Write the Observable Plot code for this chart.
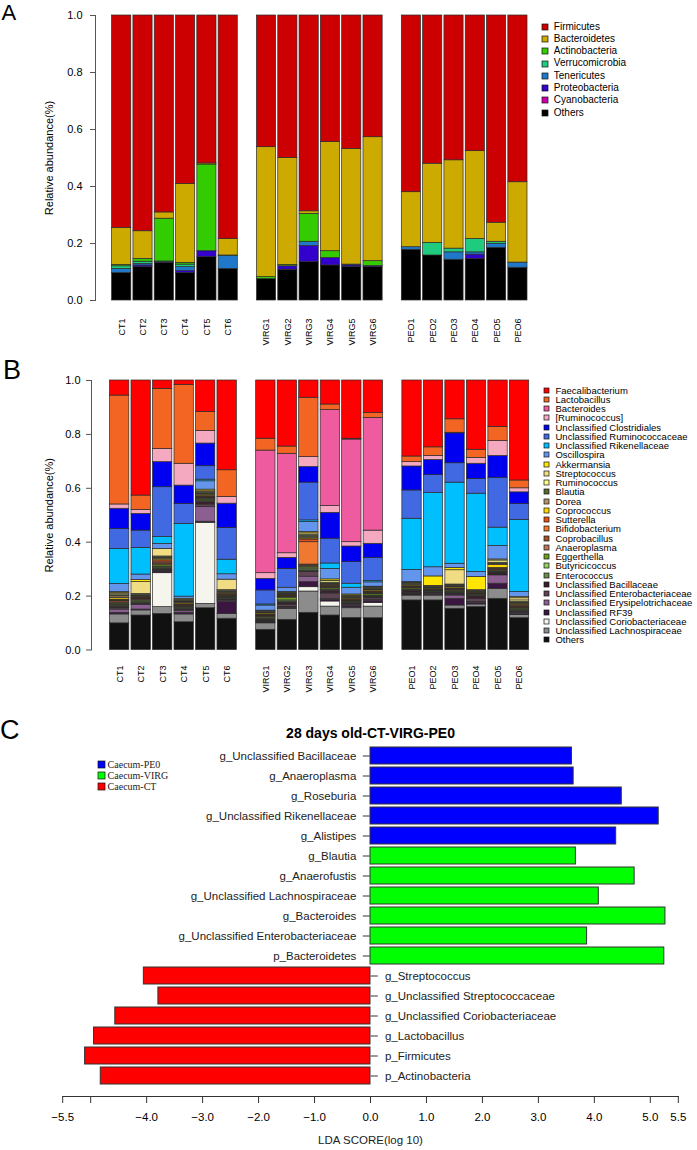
<!DOCTYPE html>
<html><head><meta charset="utf-8">
<script src="https://cdn.jsdelivr.net/npm/d3@7"></script>
<script src="https://cdn.jsdelivr.net/npm/@observablehq/plot@0.6"></script>
<style>
body{margin:0;background:#fff;}
#wrap{position:relative;width:697px;height:1150px;overflow:hidden;background:#fff;font-family:"Liberation Sans",Arial,sans-serif;}
.panel{position:absolute;left:0;}
.letter{position:absolute;line-height:1;color:#000;}
.lg{position:absolute;}
.lgA-swatches,.lgB-swatches{font-family:"Liberation Sans",Arial,sans-serif !important;font-size:10px !important;margin:0 !important;color:#000;}
.lgB-swatches{font-size:9.5px !important;}
.lgA-swatches-columns .lgA-swatch{height:12.3px;padding-bottom:0 !important;line-height:12.3px;}
.lgB-swatches-columns .lgB-swatch{height:9.25px;padding-bottom:0 !important;line-height:9.25px;}
.lgA-swatch > svg{margin-right:6.3px !important;}
.lgB-swatch > svg{margin-right:6.2px !important;}
.lgA-swatch svg rect,.lgB-swatch svg rect,.lgC-swatch svg rect{stroke:#111;stroke-width:0.7px;}
.lgC-swatches{font-family:"Liberation Serif","Times New Roman",serif !important;font-size:10px !important;margin:0 !important;color:#222;}
.lgC-swatches-columns .lgC-swatch{height:11.2px;padding-bottom:0 !important;line-height:11.2px;}
.lgC-swatch > svg{margin-right:2.8px !important;}
[class$="-swatch-label"]{overflow:visible !important;}
</style></head><body><div id="wrap"></div>
<script>
// ---------------- DATA ----------------
const groupNames = ["CT", "VIRG", "PEO"];
const samplesCT = ["CT1", "CT2", "CT3", "CT4", "CT5", "CT6"];
const samplesVIRG = ["VIRG1", "VIRG2", "VIRG3", "VIRG4", "VIRG5", "VIRG6"];
const samplesPEO = ["PEO1", "PEO2", "PEO3", "PEO4", "PEO5", "PEO6"];

// Panel A: phyla, legend order (top -> bottom)
const phyla = ["Firmicutes", "Bacteroidetes", "Actinobacteria", "Verrucomicrobia", "Tenericutes", "Proteobacteria", "Cyanobacteria", "Others"];
const phylumColors = ["#cc0000", "#ccaa00", "#33cc00", "#1fcc7f", "#1f78c8", "#3300cc", "#cc00aa", "#000000"];
// values per sample, stacked bottom -> top (Others ... Firmicutes)
const phylaCT = [
  [0.096, 0, 0, 0.015, 0.009, 0.005, 0.130, 0.745],
  [0.117, 0, 0.006, 0.005, 0.008, 0.010, 0.097, 0.757],
  [0.132, 0, 0.003, 0, 0.002, 0.150, 0.022, 0.691],
  [0.096, 0, 0.007, 0.014, 0.009, 0.006, 0.277, 0.591],
  [0.152, 0, 0.021, 0, 0, 0.304, 0.004, 0.519],
  [0.111, 0, 0, 0.045, 0.002, 0, 0.058, 0.784]
];
const phylaVIRG = [
  [0.075, 0, 0, 0, 0, 0.007, 0.456, 0.462],
  [0.108, 0, 0.012, 0, 0, 0.005, 0.375, 0.500],
  [0.135, 0, 0.056, 0.015, 0, 0.098, 0.009, 0.687],
  [0.123, 0, 0.026, 0, 0, 0.024, 0.383, 0.444],
  [0.117, 0, 0.006, 0.003, 0, 0, 0.406, 0.468],
  [0.117, 0, 0.004, 0, 0, 0.017, 0.435, 0.427]
];
const phylaPEO = [
  [0.178, 0, 0, 0.009, 0, 0, 0.193, 0.620],
  [0.158, 0, 0, 0, 0.044, 0, 0.278, 0.520],
  [0.143, 0, 0, 0.026, 0.013, 0, 0.310, 0.508],
  [0.146, 0, 0.015, 0.008, 0.047, 0, 0.308, 0.476],
  [0.185, 0, 0, 0.014, 0.007, 0, 0.067, 0.727],
  [0.115, 0, 0, 0.018, 0, 0, 0.282, 0.585]
];

// Panel B: genera, legend order (top -> bottom)
const genera = ["Faecalibacterium", "Lactobacillus", "Bacteroides", "[Ruminococcus]", "Unclassified Clostridiales",
  "Unclassified Ruminococcaceae", "Unclassified Rikenellaceae", "Oscillospira", "Akkermansia", "Streptococcus",
  "Ruminococcus", "Blautia", "Dorea", "Coprococcus", "Sutterella", "Bifidobacterium", "Coprobacillus",
  "Anaeroplasma", "Eggerthella", "Butyricicoccus", "Enterococcus", "Unclassified Bacillaceae",
  "Unclassified Enterobacteriaceae", "Unclassified Erysipelotrichaceae", "Unclassified RF39",
  "Unclassified Coriobacteriaceae", "Unclassified Lachnospiraceae", "Others"];
const genusColors = ["#ff0000", "#f26522", "#ee5b9e", "#f5a9c0", "#0000f0",
  "#4169e1", "#00bfff", "#6495ed", "#ffe600", "#f0dc82",
  "#ffff8c", "#556b2f", "#b5926a", "#ffd700", "#e8501a", "#f07830", "#a0522d",
  "#b8795a", "#6e9e1e", "#9acd62", "#6b8e4e", "#3a1f2e",
  "#5e4452", "#8b5f8f", "#3b1640",
  "#f5f5ee", "#8c8c8c", "#111111"];
// values per sample, stacked bottom -> top (Others ... Faecalibacterium)
const generaCT = [
  [0.099, 0.033, 0, 0.006, 0.012, 0.005, 0.006, 0.004, 0.003, 0.004, 0.004, 0.005, 0.003, 0.003, 0.006, 0.006, 0.004, 0.004, 0.004, 0.004, 0.030, 0.130, 0.074, 0.075, 0.016, 0, 0.404, 0.056],
  [0.128, 0.019, 0, 0.003, 0.017, 0.004, 0.003, 0.004, 0.003, 0.004, 0.003, 0.003, 0.002, 0.002, 0.003, 0.003, 0.004, 0.003, 0.044, 0.008, 0.020, 0.099, 0.064, 0.062, 0.015, 0, 0.053, 0.427],
  [0.134, 0.025, 0.126, 0.006, 0.002, 0.004, 0.004, 0.004, 0.003, 0.006, 0.004, 0.004, 0.006, 0.005, 0.004, 0.004, 0.004, 0.002, 0.028, 0, 0.019, 0.025, 0.185, 0.093, 0.049, 0, 0.223, 0.031],
  [0.103, 0.029, 0, 0.006, 0.006, 0.005, 0.004, 0.003, 0.002, 0.003, 0.002, 0.003, 0.002, 0.002, 0.005, 0.002, 0.003, 0.002, 0.004, 0.004, 0.008, 0.270, 0.074, 0.068, 0.081, 0, 0.293, 0.016],
  [0.155, 0.016, 0.301, 0.004, 0.054, 0.010, 0.009, 0.004, 0.003, 0.004, 0.003, 0.003, 0.002, 0.003, 0.005, 0.003, 0.004, 0.003, 0.003, 0.006, 0.031, 0.006, 0.050, 0.084, 0.047, 0, 0.070, 0.117],
  [0.116, 0.018, 0, 0.044, 0.003, 0.004, 0.004, 0.003, 0.003, 0.003, 0.003, 0.003, 0.002, 0.002, 0.004, 0.003, 0.004, 0.003, 0.039, 0, 0.020, 0.054, 0.118, 0.090, 0.025, 0, 0.099, 0.333]
];
const generaVIRG = [
  [0.075, 0.024, 0, 0.003, 0.002, 0.003, 0.006, 0.003, 0.002, 0.005, 0.002, 0.003, 0.002, 0.002, 0.004, 0.003, 0.003, 0.002, 0.002, 0, 0.019, 0.004, 0.052, 0.043, 0.021, 0.455, 0.044, 0.216],
  [0.112, 0.041, 0, 0.004, 0.003, 0.008, 0.008, 0.004, 0.004, 0.010, 0.003, 0.002, 0.002, 0.002, 0.003, 0.003, 0.004, 0.001, 0.001, 0, 0.016, 0, 0.070, 0.041, 0.017, 0.369, 0.027, 0.245],
  [0.138, 0.079, 0.016, 0.019, 0.020, 0.017, 0.004, 0.006, 0.004, 0.006, 0.004, 0.004, 0.083, 0.010, 0.004, 0.004, 0.006, 0.004, 0.005, 0.005, 0.037, 0.006, 0.140, 0.058, 0.037, 0, 0.220, 0.064],
  [0.128, 0.033, 0.019, 0.006, 0.004, 0.020, 0.010, 0.003, 0.002, 0.005, 0.002, 0.003, 0.002, 0.002, 0.003, 0.003, 0.004, 0.006, 0.001, 0.006, 0.039, 0.020, 0.092, 0.096, 0.025, 0.356, 0.021, 0.089],
  [0.119, 0.036, 0.003, 0.006, 0.004, 0.003, 0.003, 0.002, 0.002, 0.003, 0.002, 0.002, 0.002, 0.002, 0.004, 0.002, 0.003, 0.002, 0.002, 0.004, 0.025, 0.015, 0.080, 0.058, 0.016, 0.381, 0.003, 0.216],
  [0.118, 0.043, 0.013, 0.008, 0.004, 0.006, 0.004, 0.003, 0.003, 0.005, 0.003, 0.003, 0.002, 0.002, 0.004, 0.003, 0.004, 0.003, 0.002, 0.002, 0.016, 0.005, 0.086, 0.052, 0.049, 0.418, 0.018, 0.121]
];
const generaPEO = [
  [0.184, 0.018, 0, 0.004, 0.002, 0.004, 0.006, 0.003, 0.002, 0.005, 0.002, 0.003, 0.002, 0.002, 0.004, 0.003, 0.004, 0.002, 0.002, 0, 0.045, 0.190, 0.105, 0.089, 0.016, 0, 0.021, 0.282],
  [0.184, 0.018, 0, 0.003, 0.002, 0.004, 0.003, 0.002, 0.002, 0.003, 0.001, 0.002, 0.001, 0.001, 0.003, 0.002, 0.004, 0.001, 0.002, 0.035, 0.034, 0.275, 0.067, 0.056, 0.015, 0, 0.032, 0.248],
  [0.153, 0.012, 0, 0.025, 0.012, 0.004, 0.004, 0.003, 0.003, 0.004, 0.002, 0.003, 0.002, 0.002, 0.004, 0.003, 0.004, 0.003, 0.053, 0.008, 0.016, 0.301, 0.072, 0.111, 0.002, 0, 0.050, 0.144],
  [0.159, 0.010, 0, 0.005, 0.004, 0.012, 0.010, 0.002, 0.002, 0.003, 0.002, 0.002, 0.001, 0.001, 0.002, 0.002, 0.002, 0.001, 0.002, 0.049, 0.019, 0.290, 0.055, 0.056, 0.022, 0, 0.030, 0.257],
  [0.190, 0.037, 0, 0.019, 0.031, 0.002, 0.006, 0.003, 0.002, 0.004, 0.003, 0.003, 0.002, 0.002, 0.012, 0.004, 0.004, 0.008, 0.004, 0, 0.050, 0.068, 0.185, 0.081, 0.055, 0, 0.053, 0.172],
  [0.118, 0.012, 0, 0.004, 0.003, 0.004, 0.004, 0.003, 0.002, 0.004, 0.003, 0.003, 0.003, 0.004, 0.004, 0.003, 0.004, 0.006, 0.008, 0.004, 0.019, 0.268, 0.059, 0.043, 0.015, 0, 0.029, 0.371]
];

// Panel C: LEfSe LDA scores
const ldaTitle = "28 days old-CT-VIRG-PE0";
const ldaFeatures = ["g_Unclassified Bacillaceae", "g_Anaeroplasma", "g_Roseburia", "g_Unclassified Rikenellaceae",
  "g_Alistipes", "g_Blautia", "g_Anaerofustis", "g_Unclassified Lachnospiraceae", "g_Bacteroides",
  "g_Unclassified Enterobacteriaceae", "p_Bacteroidetes", "g_Streptococcus", "g_Unclassified Streptococcaceae",
  "g_Unclassified Coriobacteriaceae", "g_Lactobacillus", "p_Firmicutes", "p_Actinobacteria"];
const ldaScores = [3.60, 3.63, 4.49, 5.15, 4.39, 3.67, 4.72, 4.08, 5.27, 3.87, 5.25, -4.05, -3.79, -4.56, -4.94, -5.10, -4.82];
const ldaClasses = ["Caecum-PE0", "Caecum-PE0", "Caecum-PE0", "Caecum-PE0", "Caecum-PE0",
  "Caecum-VIRG", "Caecum-VIRG", "Caecum-VIRG", "Caecum-VIRG", "Caecum-VIRG", "Caecum-VIRG",
  "Caecum-CT", "Caecum-CT", "Caecum-CT", "Caecum-CT", "Caecum-CT", "Caecum-CT"];
const classNames = ["Caecum-PE0", "Caecum-VIRG", "Caecum-CT"];
const classColors = ["#0000ff", "#00ff00", "#ff0000"];
const ldaTicks = [-5.5, -5, -4, -3, -2, -1, 0, 1, 2, 3, 4, 5, 5.5];
const abundanceTicks = [0, 0.2, 0.4, 0.6, 0.8, 1.0];

// ---------------- BUILD ----------------
const GROUP_STEP = 6.8;
const BAR_W = 0.9;
const sampleGroups = [samplesCT, samplesVIRG, samplesPEO];
const sampleSlots = sampleGroups.flatMap((ss, g) => ss.map((s, j) => ({sample: s, slot: g * GROUP_STEP + j, center: g * GROUP_STEP + j + BAR_W / 2})));
const centerLabel = new Map(sampleSlots.map(d => [d.center, d.sample]));

function stackRows(valueGroups, catsBottomUp) {
  const rows = [];
  valueGroups.forEach((vals, g) => vals.forEach((arr, j) => {
    let acc = 0;
    const slot = g * GROUP_STEP + j;
    arr.forEach((v, k) => {
      if (v > 0) rows.push({sample: sampleGroups[g][j], slot, cat: catsBottomUp[k], y1: acc, y2: acc + v});
      acc += v;
    });
  }));
  return rows;
}
const rowsA = stackRows([phylaCT, phylaVIRG, phylaPEO], phyla.slice().reverse());
const rowsB = stackRows([generaCT, generaVIRG, generaPEO], genera.slice().reverse());
const ldaData = ldaFeatures.map((f, i) => ({feature: f, score: ldaScores[i], cls: ldaClasses[i]}));

const wrap = document.getElementById("wrap");
const FONT = "'Liberation Sans', Arial, sans-serif";

function place(el, left, top) {
  el.style.position = "absolute";
  el.style.left = left + "px";
  el.style.top = top + "px";
  wrap.appendChild(el);
  return el;
}

function stackedPanel({rows, cats, colors, height, mt, mb, ml, mr, domainStart, tickPad, titleDx}) {
  return Plot.plot({
    width: 697, height,
    marginTop: mt, marginBottom: mb, marginLeft: ml, marginRight: mr,
    style: {fontFamily: FONT, fontSize: "11px", background: "transparent", color: "#000"},
    x: {domain: [domainStart, 2 * GROUP_STEP + 5 + BAR_W], axis: null},
    y: {domain: [0, 1], axis: null},
    color: {domain: cats, range: colors},
    marks: [
      Plot.rect(rows, {x1: "slot", x2: d => d.slot + BAR_W, y1: "y1", y2: "y2", fill: "cat", stroke: "#2a2a2a", strokeWidth: 0.7}),
      Plot.frame({anchor: "left", stroke: "#555"}),
      Plot.axisY({ticks: abundanceTicks, tickFormat: d3.format(".1f"), tickSize: 5, tickPadding: ml > 93 ? 8 : 6, fontSize: 11, label: null, stroke: "#555"}),
      Plot.axisX({ticks: sampleSlots.map(d => d.center), tickFormat: d => centerLabel.get(d), tickRotate: -90, tickSize: 0, tickPadding: tickPad, fontSize: 9, label: null}),
      Plot.text(["Relative abundance(%)"], {frameAnchor: "left", rotate: -90, dx: titleDx, textAnchor: "middle", fontSize: 11})
    ]
  });
}

// Panel A
const plotA = stackedPanel({rows: rowsA, cats: phyla, colors: phylumColors, height: 352, mt: 15, mb: 52, ml: 95, mr: 170, domainStart: -0.78, tickPad: 18, titleDx: -46});
place(plotA, 0, 0);
const legA = plotA.legend("color", {legend: "swatches", columns: 1, swatchSize: 6, className: "lgA"});
place(legA, 541.5, 20.5);

// Panel B
const plotB = stackedPanel({rows: rowsB, cats: genera, colors: genusColors, height: 360, mt: 35, mb: 55.5, ml: 91, mr: 168.3, domainStart: -0.86, tickPad: 15.5, titleDx: -42});
place(plotB, 0, 345);
const legB = plotB.legend("color", {legend: "swatches", columns: 1, swatchSize: 5, className: "lgB"});
place(legB, 544.3, 385.6);

// Panel C
const posFeatures = ldaData.filter(d => d.score > 0).map(d => d.feature);
const negFeatures = ldaData.filter(d => d.score < 0).map(d => d.feature);
const plotC = Plot.plot({
  width: 697, height: 435,
  marginTop: 30.7, marginBottom: 54, marginLeft: 62.2, marginRight: 19.2,
  style: {fontFamily: FONT, fontSize: "11.5px", background: "transparent", color: "#000"},
  x: {domain: [-5.5, 5.5], axis: null},
  y: {domain: ldaFeatures, paddingInner: 0.15, paddingOuter: 0.075, insetBottom: 10.3, axis: null},
  color: {domain: classNames, range: classColors},
  marks: [
    Plot.barX(ldaData, {y: "feature", x1: 0, x2: "score", fill: "cls", stroke: "#333", strokeWidth: 1}),
    Plot.frame({anchor: "bottom", stroke: "#333"}),
    Plot.axisX({ticks: ldaTicks, tickFormat: d => d === -5 ? "" : d3.format(".1f")(d), tickSize: 7, tickPadding: 9.5, fontSize: 11.5, label: null, stroke: "#333"}),
    Plot.axisY({anchor: "left", ticks: posFeatures, tickSize: 7, tickPadding: 7, dx: 307.6, fontSize: 11.5, label: null, fill: "#222", stroke: "#333"}),
    Plot.axisY({anchor: "right", ticks: negFeatures, tickSize: 7, tickPadding: 7.6, dx: -308, fontSize: 11.5, label: null, fill: "#222", stroke: "#333"}),
    Plot.text([ldaTitle], {frameAnchor: "top", dy: -17.7, fontWeight: "bold", fontSize: 14, textAnchor: "middle"}),
    Plot.text(["LDA SCORE(log 10)"], {frameAnchor: "bottom", dy: 47, fontSize: 11.5, textAnchor: "middle", fill: "#222"})
  ]
});
place(plotC, 0, 715);
const legC = plotC.legend("color", {legend: "swatches", columns: 1, swatchSize: 7, className: "lgC"});
place(legC, 97.8, 758.7);

// Panel letters
function letter(t, left, top, size, narrow) {
  const d = document.createElement("div");
  d.className = "letter";
  d.textContent = t;
  d.style.fontSize = size + "px";
  d.style.fontFamily = narrow ? "'Liberation Sans Narrow','Arial Narrow','Liberation Sans',sans-serif" : FONT;
  place(d, left, top);
}
letter("A", 1.5, 2, 22, false);
letter("B", 3, 356.5, 27, true);
letter("C", 0, 716.5, 27, true);
</script></body></html>
